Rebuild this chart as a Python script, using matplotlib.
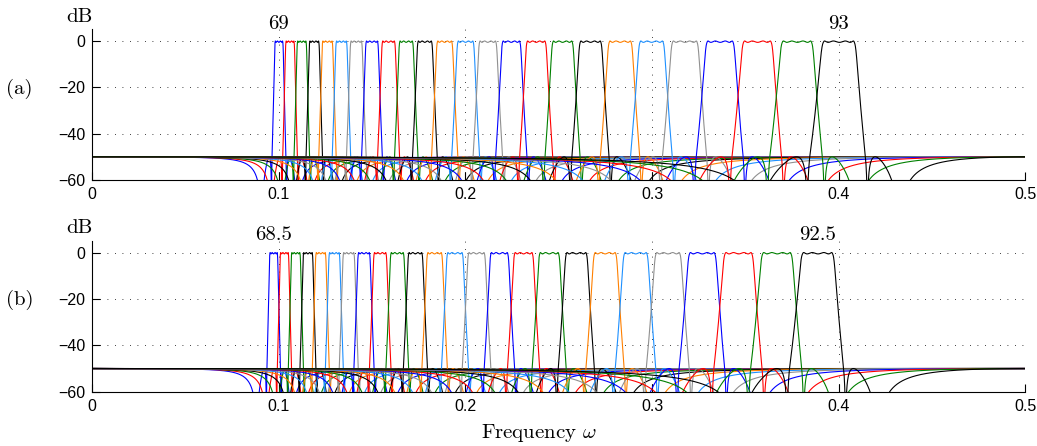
import numpy as np
import matplotlib
matplotlib.use("Agg")
import matplotlib.pyplot as plt

# MIDI pitches of the filter centres, panel (a) and panel (b)
pitches_a = [69, 70, 71, 72, 73, 74, 75, 76, 77, 78, 79, 80, 81,
             82, 83, 84, 85, 86, 87, 88, 89, 90, 91, 92, 93]
pitches_b = [68.5, 69.5, 70.5, 71.5, 72.5, 73.5, 74.5, 75.5, 76.5,
             77.5, 78.5, 79.5, 80.5, 81.5, 82.5, 83.5, 84.5, 85.5,
             86.5, 87.5, 88.5, 89.5, 90.5, 91.5, 92.5]
labels_a = ["69", "93"]
labels_b = ["68.5", "92.5"]

# pitch 69 sits at omega = 0.1
ref_pitch = 69
ref_omega = 0.1

# filter design (elliptic-like band pass, order 4 prototype)
order = 4
ripple_db = 0.6
stop_db = 50.0
pass_half = 0.36      # passband half width, semitones
stop_ratio = 1.8      # prototype stopband edge

colors = ["#0000ff", "#ff0000", "#008000", "#000000",
          "#ff8000", "#1e90ff", "#909090"]

plt.rcParams["mathtext.fontset"] = "cm"
tick_font = "Liberation Sans"
text_font = "cmr10"


def cheb(u):
    return np.cos(order * np.arccos(np.clip(u, -1, 1)))


def response_db(w, wc):
    half = 2 ** (pass_half / 12)
    op1 = np.tan(np.pi * wc / half)
    op2 = np.tan(np.pi * wc * half)
    om = np.tan(np.pi * w)
    x = (om ** 2 - op1 * op2) / (om * (op2 - op1))
    ax_ = np.abs(x)
    eps2 = 10 ** (ripple_db / 10) - 1
    L = np.sqrt((10 ** (stop_db / 10) - 1) / eps2)
    R = np.zeros_like(x)
    pb = ax_ <= 1
    R[pb] = cheb(x[pb])
    tr = (ax_ > 1) & (ax_ < stop_ratio)
    R[tr] = np.exp(np.log(L) * np.log(ax_[tr]) / np.log(stop_ratio))
    sb = ax_ >= stop_ratio
    t = np.abs(cheb(stop_ratio / ax_[sb]))
    R[sb] = L / np.maximum(t, 1e-9)
    return -10 * np.log10(1 + eps2 * R ** 2)


w = np.linspace(1e-5, 0.5 - 1e-5, 40000)

fig = plt.figure(figsize=(10.37, 4.46), dpi=100)
ax1 = fig.add_axes([0.089, 0.5964, 0.8997, 0.3377])
ax2 = fig.add_axes([0.089, 0.1217, 0.8997, 0.3381])

for ax, pitches, labels, tag in [(ax1, pitches_a, labels_a, "(a)"),
                                  (ax2, pitches_b, labels_b, "(b)")]:
    centres = [ref_omega * 2 ** ((p - ref_pitch) / 12) for p in pitches]
    for i, wc in enumerate(centres):
        ax.plot(w, response_db(w, wc), color=colors[i % len(colors)], lw=0.8)
    ax.set_xlim(0, 0.5)
    ax.set_ylim(-60, 5)
    ax.set_xticks([0, 0.1, 0.2, 0.3, 0.4, 0.5])
    ax.set_xticklabels(["0", "0.1", "0.2", "0.3", "0.4", "0.5"])
    ax.set_yticks([-60, -40, -20, 0])
    ax.grid(True, linestyle=(0, (1, 8)), color="black", lw=0.6)
    ax.tick_params(direction="in", length=6, width=0.8, labelsize=11.5,
                   pad=5)
    for lab in ax.get_xticklabels() + ax.get_yticklabels():
        lab.set_fontfamily(tick_font)
    ax.spines["top"].set_visible(False)
    ax.spines["right"].set_visible(False)
    ax.spines["left"].set_linewidth(0.8)
    ax.spines["bottom"].set_linewidth(0.8)
    # pitch labels above first and last filter
    ax.text(centres[0], 3.5, labels[0], ha="center", va="bottom",
            fontsize=15, fontfamily=text_font, clip_on=False)
    ax.text(centres[-1], 3.5, labels[1], ha="center", va="bottom",
            fontsize=15, fontfamily=text_font, clip_on=False)
    ax.text(0.0, 6.5, "dB", ha="right", va="bottom", fontsize=15,
            fontfamily=text_font, clip_on=False)
    ax.text(-0.039, -20.5, tag, ha="center", va="center", fontsize=15,
            fontfamily=text_font, clip_on=False)

fig.text(0.52, 0.03, "Frequency $\\omega$", ha="center", va="center",
         fontsize=15, fontfamily=text_font)

fig.savefig("out.png", dpi=100)
